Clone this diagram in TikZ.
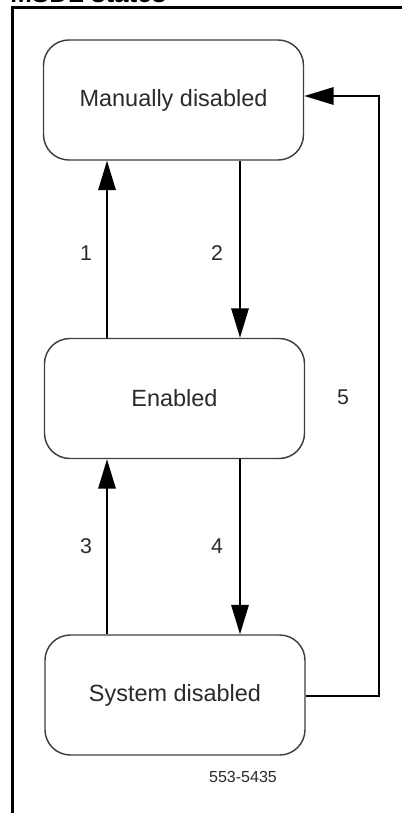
\documentclass[tikz,border=0pt]{standalone}
\usepackage{fontspec}
\setmainfont{Liberation Sans}
\usetikzlibrary{arrows.meta}
\definecolor{ink}{HTML}{2A2A2A}
\begin{document}
\begin{tikzpicture}[x=0.75pt,y=-0.75pt,
  statebox/.style={draw=ink!90,line width=1.1pt,rounded corners=19pt,minimum width=195pt,minimum height=90pt,inner sep=0pt,text=ink,font=\fontsize{17.6}{20}\selectfont},
  arr/.style={draw=black,line width=1.4pt,-{Triangle[length=22pt,width=13pt]}},
  lbl/.style={text=ink,font=\fontsize{16}{18}\selectfont,inner sep=0pt}]
\useasboundingbox (0,0) rectangle (402,813);
\clip (0,0) rectangle (402,813);
\node[anchor=base west,inner sep=0pt,font=\bfseries\fontsize{19.5}{22}\selectfont] (title) at (10,3) {MSDL states};
\draw[line width=2.3pt] (12.5,813) -- (12.5,7.5) -- (402,7.5);
\node[statebox] (m) at (173.5,100) {Manually disabled};
\node[statebox] (e) at (174.5,398.5) {Enabled};
\node[statebox] (s) at (175,695) {System disabled};
\coordinate (xa) at (107,0);
\coordinate (xb) at (240,0);
\coordinate (xr) at (379,0);
\draw[arr] (e.north -| xa) -- (m.south -| xa);
\draw[arr] (m.south -| xb) -- (e.north -| xb);
\draw[arr] (s.north -| xa) -- (e.south -| xa);
\draw[arr] (e.south -| xb) -- (s.north -| xb);
\draw[arr] ([yshift=-0.75pt]s.east) -- ([yshift=-0.75pt]s.east -| xr) |- ([yshift=3pt]m.east);
\node[lbl] (l1) at (86,253) {1};
\node[lbl] (l2) at (217,253) {2};
\node[lbl] (l3) at (86,546) {3};
\node[lbl] (l4) at (217,546) {4};
\node[lbl] (l5) at (343,397) {5};
\node[text=ink,font=\fontsize{12}{14}\selectfont,inner sep=0pt] (code) at (243,777) {553-5435};
\end{tikzpicture}
\end{document}
